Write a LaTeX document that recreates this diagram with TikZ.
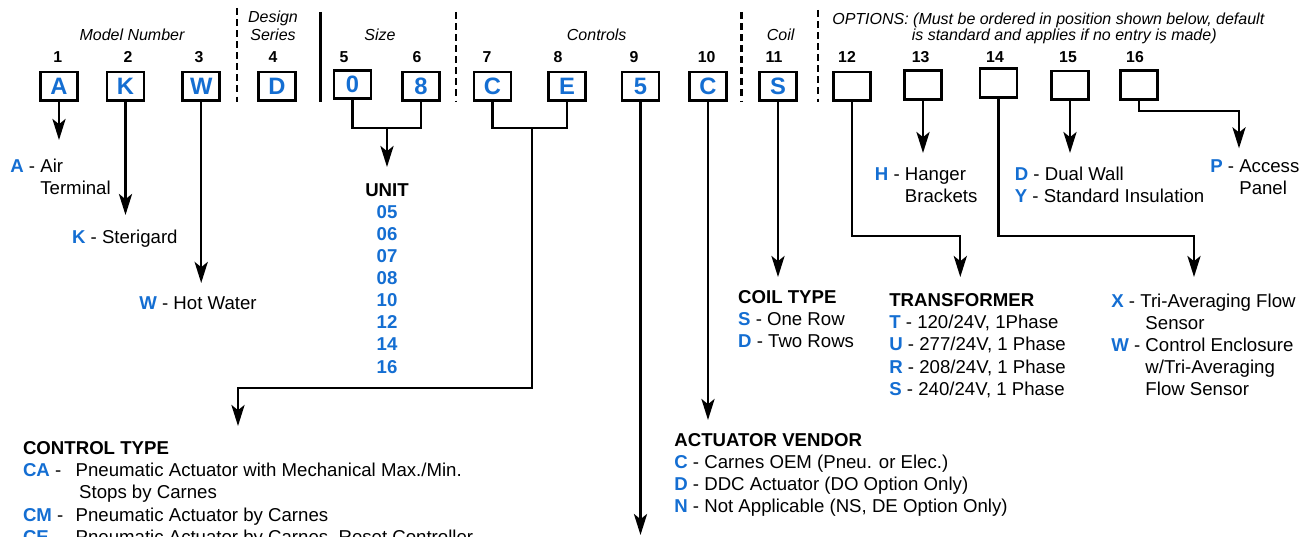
\documentclass[tikz,border=0pt]{standalone}
\usepackage{fontspec}
\setmainfont{Liberation Sans}
\usetikzlibrary{arrows.meta}
\definecolor{codeblue}{RGB}{20,110,210}
\newcommand{\keyltr}[1]{{\bfseries\color{codeblue}#1}}

\begin{document}
\begin{tikzpicture}[x=0.02cm, y=-0.02cm,
	codebox/.style={draw, line width=1.5pt, minimum width=0.74cm, minimum height=0.57cm, inner sep=0pt, text=codeblue, font=\fontsize{13.5}{14}\selectfont\bfseries},
	posnum/.style={anchor=base, inner sep=0pt, font=\fontsize{9}{10}\selectfont\bfseries},
	grouphead/.style={anchor=base, inner sep=0pt, font=\fontsize{9.1}{11}\selectfont\itshape},
	legend/.style={anchor=base west, inner sep=0pt, font=\fontsize{10.6}{12.6}\selectfont},
	link/.style={line width=1.3pt},
	pointer/.style={link, -{Stealth[length=12pt, width=7.5pt, inset=3pt]}},
	divider/.style={line width=1.4pt, dash pattern=on 3.8pt off 2.5pt}]
	\useasboundingbox (0,0) rectangle (1308,537);
	\clip (0,0) rectangle (1308,537);

	% group headings
	\node[grouphead] (hmodel) at (132,40.4) {Model Number};
	\node[grouphead] (hdesign) at (273,22.4) {Design};
	\node[grouphead] (hseries) at (273,40.4) {Series};
	\node[grouphead] (hsize) at (380,40.4) {Size};
	\node[grouphead] (hctl) at (596.7,40.4) {Controls};
	\node[grouphead] (hcoil) at (780.7,40.4) {Coil};
	\node[grouphead, anchor=base west] (hopt) at (832,24.4) {OPTIONS: (Must be ordered in position shown below, default};
	\node[grouphead, anchor=base east] (hopt2) at (1217,40.4) {is standard and applies if no entry is made)};

	% separators
	\draw[divider] (237,8) -- (237,102);
	\draw[line width=1.4pt] (320.7,12) -- (320.7,102);
	\draw[divider] (456,12) -- (456,102);
	\draw[divider] (741.7,12) -- (741.7,102);
	\draw[divider] (818,10) -- (818,102);

	% positions
	\foreach \x/\n in {57.7/1,128/2,199/3,273/4,344/5,417/6,487/7,558/8,634/9,706.7/10,774/11,847/12,920.7/13,995/14,1068/15,1135/16}
		\node[posnum] (n\n) at (\x,62.5) {\n};

	% code boxes
	\node[codebox] (bA) at (59,86.2) {A};
	\node[codebox] (bK) at (125.5,86.2) {K};
	\node[codebox] (bW) at (201.2,86.2) {W};
	\node[codebox] (bD) at (277,86.2) {D};
	\node[codebox] (b5) at (352.5,84.5) {0};
	\node[codebox] (b6) at (421,86.2) {8};
	\node[codebox] (b7) at (492.5,86.2) {C};
	\node[codebox] (b8) at (567,86.2) {E};
	\node[codebox] (b9) at (640.5,86.2) {5};
	\node[codebox] (b10) at (708,86.2) {C};
	\node[codebox] (b11) at (778,86.2) {S};
	\node[codebox] (b12) at (852,86.2) {};
	\node[codebox] (b13) at (923,85) {};
	\node[codebox] (b14) at (998.5,83) {};
	\node[codebox] (b15) at (1070,85.3) {};
	\node[codebox] (b16) at (1139,85) {};

	% arrow ends and bends
	\coordinate (tipA) at (59,140);
	\coordinate (tipK) at (125.5,215);
	\coordinate (tipW) at (201.2,283);
	\coordinate (sizejoin) at (387,128.3);
	\coordinate (tipU) at (387,167);
	\coordinate (ctljoin) at (531.7,128.3);
	\coordinate (ctlbend) at (531.7,388.3);
	\coordinate (tipCT) at (238,426);
	\coordinate (tip9) at (640.5,535);
	\coordinate (tipAV) at (708,420);
	\coordinate (tipCoil) at (778,277);
	\coordinate (xfbend) at (960.3,235.7);
	\coordinate (tipXF) at (960.3,277);
	\coordinate (tipH) at (923,153);
	\coordinate (sensbend) at (1194,235.7);
	\coordinate (tipSens) at (1194,277);
	\coordinate (tipDY) at (1070,153);
	\coordinate (panelbend) at (1239,110.7);
	\coordinate (tipP) at (1239,148.3);

	\draw[pointer] (bA.south) -- (tipA);
	\draw[pointer] (bK.south) -- (tipK);
	\draw[pointer] (bW.south) -- (tipW);
	\draw[link] (b5.south) |- (sizejoin) -| (b6.south);
	\draw[pointer] (sizejoin) -- (tipU);
	\draw[link] (b7.south) |- (ctljoin) -| (b8.south);
	\draw[pointer] (ctljoin) -- (ctlbend) -| (tipCT);
	\draw[pointer] (b9.south) -- (tip9);
	\draw[pointer] (b10.south) -- (tipAV);
	\draw[pointer] (b11.south) -- (tipCoil);
	\draw[pointer] (b12.south) |- (xfbend) -- (tipXF);
	\draw[pointer] (b13.south) -- (tipH);
	\draw[pointer] (b14.south) |- (sensbend) -- (tipSens);
	\draw[pointer] (b15.south) -- (tipDY);
	\draw[pointer] (b16.south) |- (panelbend) -- (tipP);

	% legends
	\node[legend] (lA) at (10,172.6) {\begin{tabular}[t]{@{}l@{}}\keyltr{A} - Air\\ \phantom{\keyltr{A} - }Terminal\end{tabular}};
	\node[legend] (lK) at (71.7,243.3) {\keyltr{K} - Sterigard};
	\node[legend] (lW) at (139,309.6) {\keyltr{W} - Hot Water};
	\node[legend, anchor=base] (lunit) at (387,196) {\begin{tabular}[t]{@{}c@{}}\textbf{UNIT}\\ \keyltr{05}\\ \keyltr{06}\\ \keyltr{07}\\ \keyltr{08}\\ \keyltr{10}\\ \keyltr{12}\\ \keyltr{14}\\ \keyltr{16}\end{tabular}};
	\node[legend] (lH) at (874.6,180) {\begin{tabular}[t]{@{}l@{}}\keyltr{H} - Hanger\\ \phantom{\keyltr{H} - }Brackets\end{tabular}};
	\node[legend] (lDY) at (1014.5,180) {\begin{tabular}[t]{@{}l@{}}\keyltr{D} - Dual Wall\\ \keyltr{Y} - Standard Insulation\end{tabular}};
	\node[legend] (lP) at (1210,172.6) {\begin{tabular}[t]{@{}l@{}}\keyltr{P} - Access\\ \phantom{\keyltr{P} - }Panel\end{tabular}};
	\node[legend] (lcoil) at (737.8,303.3) {\begin{tabular}[t]{@{}l@{}}\textbf{COIL TYPE}\\ \keyltr{S} - One Row\\ \keyltr{D} - Two Rows\end{tabular}};
	\node[legend] (lxf) at (889,306.6) {\begin{tabular}[t]{@{}l@{}}\textbf{TRANSFORMER}\\ \keyltr{T} - 120/24V, 1Phase\\ \keyltr{U} - 277/24V, 1 Phase\\ \keyltr{R} - 208/24V, 1 Phase\\ \keyltr{S} - 240/24V, 1 Phase\end{tabular}};
	\node[legend] (lsens) at (1111,307) {\begin{tabular}[t]{@{}l@{}}\keyltr{X} - Tri-Averaging Flow\\ \phantom{\keyltr{W} - }Sensor\\ \keyltr{W} - Control Enclosure\\ \phantom{\keyltr{W} - }w/Tri-Averaging\\ \phantom{\keyltr{W} - }Flow Sensor\end{tabular}};
	\node[legend] (lctl) at (22.7,454.6) {\begin{tabular}[t]{@{}l@{\hspace{7pt}}l@{}}\multicolumn{2}{@{}l@{}}{\textbf{CONTROL TYPE}}\\ \keyltr{CA} - & Pneumatic Actuator with Mechanical Max./Min.\\ & \hspace{2pt}Stops by Carnes\\ \keyltr{CM} - & Pneumatic Actuator by Carnes\\ \keyltr{CE} - & Pneumatic Actuator by Carnes, Reset Controller\end{tabular}};
	\node[legend] (lvend) at (674,446) {\begin{tabular}[t]{@{}l@{}}\textbf{ACTUATOR VENDOR}\\ \keyltr{C} - Carnes OEM (Pneu. or Elec.)\\ \keyltr{D} - DDC Actuator (DO Option Only)\\ \keyltr{N} - Not Applicable (NS, DE Option Only)\end{tabular}};
\end{tikzpicture}
\end{document}
